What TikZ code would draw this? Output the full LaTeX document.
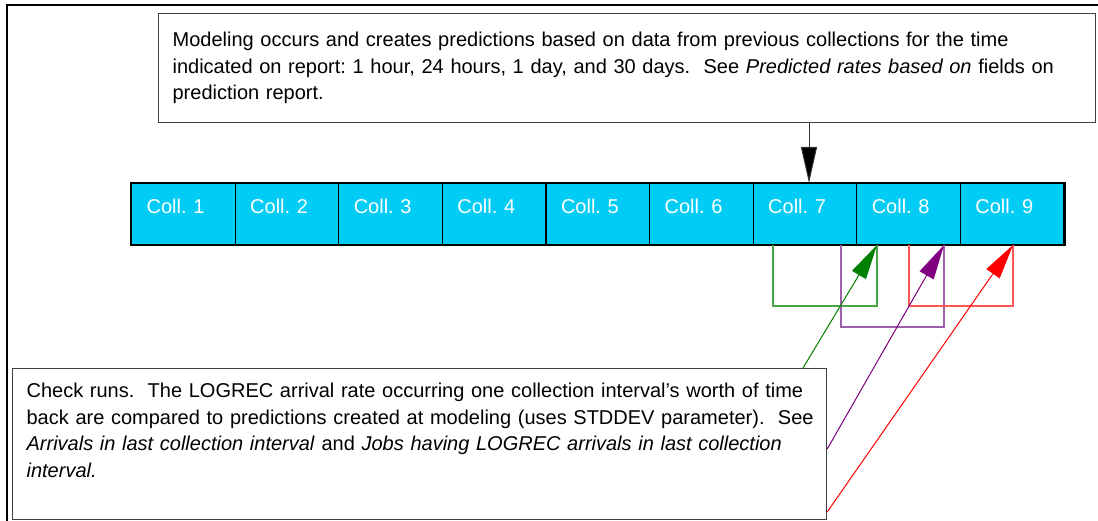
\documentclass[tikz,border=0pt]{standalone}
\usepackage{fontspec}
\setmainfont{Liberation Sans}
\usetikzlibrary{arrows.meta,calc}
\definecolor{collcyan}{RGB}{0,204,245}
\definecolor{brgreen}{RGB}{70,165,70}
\definecolor{brpurple}{RGB}{160,95,170}
\definecolor{brred}{RGB}{255,85,85}
\definecolor{argreen}{RGB}{0,128,0}
\definecolor{arpurple}{RGB}{128,0,128}
\definecolor{arred}{RGB}{255,0,0}
\frenchspacing
\tikzset{
  textbox/.style={draw=black!75, line width=1.2pt, anchor=north west, align=left,
    inner xsep=14pt, inner ysep=0pt, font=\fontsize{20}{26.5}\selectfont},
  collbox/.style={draw=black, line width=1.2pt, fill=collcyan, anchor=north west,
    align=left, text=white, inner xsep=15pt, inner ysep=0pt,
    text width=73.6pt, text height=30pt, text depth=31pt,
    font=\fontsize{20}{24}\selectfont},
  bigtip/.style={-{Triangle[length=35pt,width=16pt]}, line width=1pt},
  bracket/.style={line width=1.2pt}
}
\begin{document}
\begin{tikzpicture}[x=1pt,y=-1pt]
\useasboundingbox (0,0) rectangle (1098,521);
% outer frame (partly visible)
\draw[line width=1.4pt] (7,521) -- (7,5) -- (1098,5);
% top text box
\node[textbox, text width=909pt, text height=33pt, text depth=76pt] (model) at (158,13)
 {\mbox{Modeling occurs and creates predictions based on data from previous collections for the time}\\
  \mbox{indicated on report: 1 hour, 24 hours, 1 day, and 30 days.\ \ See \textit{Predicted rates based on} fields on}\\
  prediction report.};
% collection cells
\foreach \i in {1,...,9}{
  \node[collbox] (c\i) at ({131+103.6*(\i-1)},183) {Coll.\ \i};
}
\draw[line width=2pt] (c1.north west) rectangle (c9.south east);
% arrow from modeling box to Coll. 7
\coordinate (a7) at (809,183);
\draw[draw=black!80, line width=1pt, -{Triangle[length=36pt,width=16pt,fill=black]}] (model.south -| a7) -- (a7);
% brackets
\draw[bracket, brgreen] (773,245) -- (773,306) -- (877,306) -- (877,245);
\draw[bracket, brpurple] (841,245) -- (841,327) -- (944,327) -- (944,245);
\draw[bracket, brred] (909,245) -- (909,306) -- (1013,306) -- (1013,245);
% bottom text box
\node[textbox, text width=786pt, text height=29pt, text depth=122pt] (check) at (12,368)
 {\mbox{Check runs.\ \ The LOGREC arrival rate occurring one collection interval’s worth of time}\\
  \mbox{back are compared to predictions created at modeling (uses STDDEV parameter).\ \ See}\\
  \mbox{\textit{Arrivals in last collection interval} and \textit{Jobs having LOGREC arrivals in last collection}}\\
  \textit{interval.}};
% arrow targets and tails
\coordinate (gtip) at (877,245);
\coordinate (ptip) at (944,245);
\coordinate (rtip) at (1013,245);
\coordinate (gtail) at (check.north -| 803,0);
\coordinate (ptail) at (check.east |- 0,449);
\coordinate (rtail) at (check.east |- 0,512);
\draw[bigtip, argreen] (gtail) -- (gtip);
\draw[bigtip, arpurple] (ptail) -- (ptip);
\draw[bigtip, arred] (rtail) -- (rtip);
\end{tikzpicture}
\end{document}
